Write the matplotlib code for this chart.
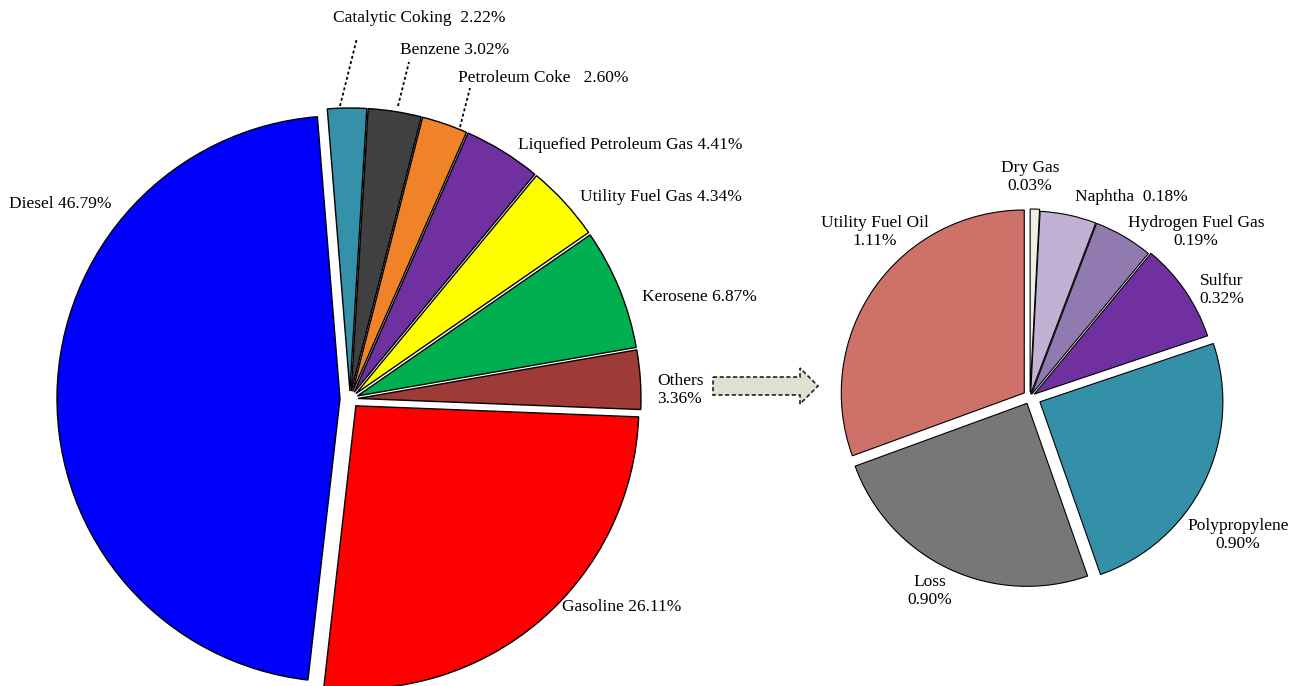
import numpy as np
import matplotlib
matplotlib.use("Agg")
from matplotlib import pyplot as plt
from matplotlib.patches import Polygon

plt.rcParams['font.family'] = ['Liberation Serif', 'DejaVu Serif']

# refinery products, main pie (percent of total), counter-clockwise from Gasoline
main_names = ["Gasoline", "Others", "Kerosene", "Utility Fuel Gas",
              "Liquefied Petroleum Gas", "Petroleum Coke", "Benzene",
              "Catalytic Coking", "Diesel"]
main_values = [26.11, 3.36, 6.87, 4.34, 4.41, 2.60, 3.02, 2.22, 46.79]
main_colors = ["#FF0000", "#9E3B36", "#00B050", "#FFFF00", "#7030A0",
               "#F0822A", "#404040", "#3491A9", "#0000FF"]

# breakdown of "Others", counter-clockwise from the top
other_names = ["Utility Fuel Oil", "Loss", "Polypropylene", "Sulfur",
               "Hydrogen Fuel Gas", "Naphtha", "Dry Gas"]
other_values = [1.11, 0.90, 0.90, 0.32, 0.19, 0.18, 0.03]
other_colors = ["#CD7169", "#777777", "#3490A8", "#7030A0",
                "#917AAF", "#C0B1D5", "#EEF0E2"]

W, H = 1302, 686
fig = plt.figure(figsize=(W / 100, H / 100), dpi=100)
ax = fig.add_axes([0, 0, 1, 1])

wedge_style = dict(edgecolor="black", linewidth=1.0)

# pie() takes explode in data units, here pixels
ax.pie(main_values, center=(350, H - 399), radius=283, startangle=-96.5,
       counterclock=True, colors=main_colors,
       explode=[9, 8, 8, 8, 8, 8, 8, 8, 10],
       wedgeprops=wedge_style)

ax.pie(other_values, center=(1030, H - 397), radius=183, startangle=90,
       counterclock=True, colors=other_colors,
       explode=[7, 7, 11, 5, 3, 3, 5],
       wedgeprops=dict(edgecolor="black", linewidth=0.8))

fs = 12.5

def put(x, y, s, ha="center"):
    ax.text(x, H - y, s, fontsize=fs, ha=ha, va="center", linespacing=1.15)

mv = dict(zip(main_names, main_values))
ov = dict(zip(other_names, other_values))

# main pie labels
put(419, 18, f"Catalytic Coking  {mv['Catalytic Coking']:.2f}%")
put(455, 50, f"Benzene {mv['Benzene']:.2f}%")
put(543, 78, f"Petroleum Coke   {mv['Petroleum Coke']:.2f}%")
put(630, 145, f"Liquefied Petroleum Gas {mv['Liquefied Petroleum Gas']:.2f}%")
put(661, 197, f"Utility Fuel Gas {mv['Utility Fuel Gas']:.2f}%")
put(699, 297, f"Kerosene {mv['Kerosene']:.2f}%")
put(657, 390, f"Others\n{mv['Others']:.2f}%", ha="left")
put(622, 607, f"Gasoline {mv['Gasoline']:.2f}%")
put(60, 204, f"Diesel {mv['Diesel']:.2f}%")

# dotted leader lines for the thin top slices
for (x0, y0, x1, y1) in [(340, 106, 357, 38), (398, 106, 409, 62), (460, 127, 470, 88)]:
    ax.plot([x0, x1], [H - y0, H - y1], color="black", lw=1.3, ls=(0, (1.6, 1.4)))

# breakdown labels
put(1030, 177, f"Dry Gas\n{ov['Dry Gas']:.2f}%")
put(1131, 197, f"Naphtha  {ov['Naphtha']:.2f}%")
put(1196, 232, f"Hydrogen Fuel Gas\n{ov['Hydrogen Fuel Gas']:.2f}%")
put(1222, 290, f"Sulfur\n{ov['Sulfur']:.2f}%")
put(875, 232, f"Utility Fuel Oil\n{ov['Utility Fuel Oil']:.2f}%")
put(1238, 535, f"Polypropylene\n{ov['Polypropylene']:.2f}%")
put(930, 591, f"Loss\n{ov['Loss']:.2f}%")

# dashed block arrow linking the two pies
ay = H - 386
arrow = Polygon([(713, ay + 9), (800, ay + 9), (800, ay + 18), (818, ay),
                 (800, ay - 18), (800, ay - 9), (713, ay - 9)],
                closed=True, facecolor="#DEE1D0", edgecolor="#222222",
                linewidth=1.2, linestyle=(0, (2.5, 1.5)))
ax.add_patch(arrow)

ax.set_xlim(0, W)
ax.set_ylim(0, H)
ax.set_aspect("equal")
ax.axis("off")

fig.savefig("out.png", dpi=100, facecolor="white")
